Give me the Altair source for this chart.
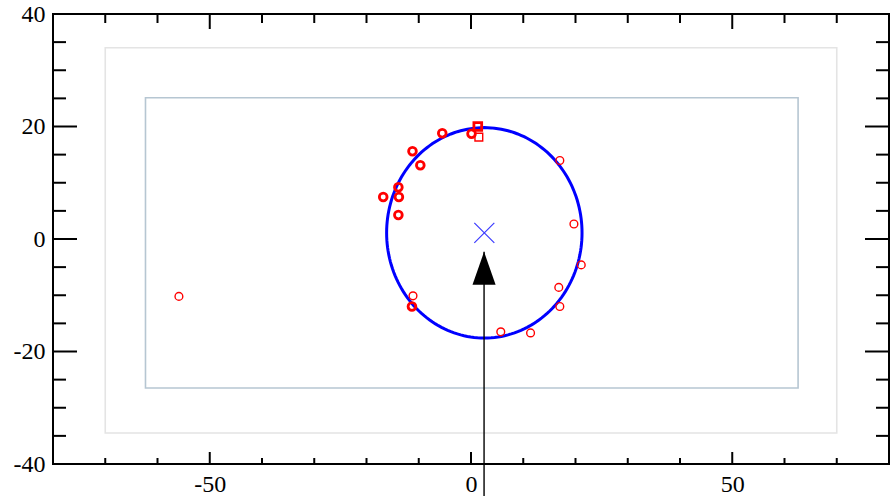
import altair as alt
import pandas as pd

# ---- data -----------------------------------------------------------------
# observed positions (red hollow markers); n = number of overlapping hits
PX = [-5.5, 0.1, 1.3, 1.5, -11.2, -9.7, -13.9, -13.8, -16.8, -13.9,
      -11.1, -11.3, 5.7, 11.4, 16.8, 17.0, 21.1, 17.0, 19.7, -55.9]
PY = [18.8, 18.7, 20.0, 18.1, 15.6, 13.1, 9.2, 7.45, 7.45, 4.26,
      -10.1, -12.0, -16.5, -16.7, -8.6, -12.0, -4.6, 13.95, 2.66, -10.2]
PSHAPE = ["circle", "circle", "square", "square", "circle", "circle", "circle",
          "circle", "circle", "circle", "circle", "circle", "circle", "circle",
          "circle", "circle", "circle", "circle", "circle", "circle"]
PN = [2, 2, 2, 1, 2, 2, 2, 2, 2, 2, 1, 2, 1, 1, 1, 1, 1, 1, 1, 1]

# fitted circle
CX, CY, R = 2.55, 1.1, 18.7

# arrow pointing up at the centre
ARROW_X = [2.5]
ARROW_TAIL = [-46.0]
ARROW_TIP = [-2.27]

# reference boxes (outer and inner)
BOX_NAME = ["outer", "inner"]
BOX_X1 = [-70.0, -62.3]
BOX_X2 = [70.0, 62.6]
BOX_Y1 = [-34.5, -26.5]
BOX_Y2 = [34.0, 25.1]

# tick positions
X_MAJOR = [-50, 0, 50]
X_MINOR = [-70, -60, -40, -30, -20, -10, 10, 20, 30, 40, 60, 70]
Y_MAJOR = [-40, -20, 0, 20, 40]
Y_MINOR = [-35, -30, -25, -15, -10, -5, 5, 10, 15, 25, 30, 35]

W, H = 836, 450
FONT = "Times New Roman"

xs = alt.Scale(domain=[-80, 80], nice=False, zero=False)
ys = alt.Scale(domain=[-40, 40], nice=False, zero=False)

AX = alt.Axis(values=X_MAJOR, ticks=False, domain=False, grid=False, title=None,
              labelFont=FONT, labelFontSize=24, labelColor="black",
              labelPadding=8, labelFlush=False, labelOverlap=False,
              labelExpr="'' + datum.value")
AY = alt.Axis(values=Y_MAJOR, ticks=False, domain=False, grid=False, title=None,
              labelFont=FONT, labelFontSize=24, labelColor="black",
              labelPadding=8, labelOverlap=False, labelBaseline="middle",
              labelExpr="'' + datum.value")

pts = pd.DataFrame({"x": PX, "y": PY, "shape": PSHAPE, "n": PN})
boxes = pd.DataFrame({"name": BOX_NAME, "x1": BOX_X1, "x2": BOX_X2,
                      "y1": BOX_Y1, "y2": BOX_Y2})
arrow = pd.DataFrame({"x": ARROW_X, "tail": ARROW_TAIL, "tip": ARROW_TIP})
centre = pd.DataFrame({"x": [CX], "y": [CY]})

box_layer = alt.Chart(boxes).mark_rect(fillOpacity=0, strokeWidth=1.6).encode(
    x=alt.X("x1:Q", scale=xs, axis=AX),
    x2="x2:Q",
    y=alt.Y("y1:Q", scale=ys, axis=AY),
    y2="y2:Q",
    stroke=alt.Stroke("name:N", scale=alt.Scale(domain=["outer", "inner"],
                                                  range=["#e4e4e4", "#b6c6d2"]),
                      legend=None),
)

circle_layer = alt.Chart(alt.sequence(0, 362, 2, as_="t")).transform_calculate(
    cx=f"{CX} + {R} * cos(datum.t * PI / 180)",
    cy=f"{CY} + {R} * sin(datum.t * PI / 180)",
).mark_line(color="#0000ff", strokeWidth=3).encode(
    x=alt.X("cx:Q", scale=xs, axis=AX),
    y=alt.Y("cy:Q", scale=ys, axis=AY),
    order="t:Q",
)

point_layer = alt.Chart(pts).mark_point(filled=False, color="#ff0000", size=60,
                                        opacity=1).encode(
    x=alt.X("x:Q", scale=xs, axis=AX),
    y=alt.Y("y:Q", scale=ys, axis=AY),
    shape=alt.Shape("shape:N", scale=alt.Scale(domain=["circle", "square"],
                                                 range=["circle", "square"]),
                    legend=None),
    strokeWidth=alt.StrokeWidth("n:Q", scale=alt.Scale(domain=[1, 2], range=[1.4, 2.8]),
                                legend=None),
)

centre_layer = alt.Chart(centre).mark_point(
    shape="M-1,-1L1,1M-1,1L1,-1", size=400, filled=False,
    color="#3a3aff", strokeWidth=1.2, opacity=1,
).encode(
    x=alt.X("x:Q", scale=xs, axis=AX),
    y=alt.Y("y:Q", scale=ys, axis=AY),
)

arrow_line = alt.Chart(arrow).mark_rule(color="black", strokeWidth=1.4).encode(
    x=alt.X("x:Q", scale=xs, axis=AX),
    y=alt.Y("tail:Q", scale=ys, axis=AY),
    y2="tip:Q",
)
arrow_head = alt.Chart(arrow).mark_point(
    shape="M0,0L0.7,2L-0.7,2Z", size=1089, filled=True, color="black",
    opacity=1, strokeWidth=0,
).encode(
    x=alt.X("x:Q", scale=xs, axis=AX),
    y=alt.Y("tip:Q", scale=ys, axis=AY),
)


def xticks(values, top_len, bottom_len):
    df = pd.DataFrame({"v": values})
    top = alt.Chart(df).mark_rule(color="black", strokeWidth=2).encode(
        x=alt.X("v:Q", scale=xs, axis=AX), y=alt.value(0), y2=alt.value(top_len))
    bottom = alt.Chart(df).mark_rule(color="black", strokeWidth=2).encode(
        x=alt.X("v:Q", scale=xs, axis=AX), y=alt.value(H), y2=alt.value(H - bottom_len))
    return [top, bottom]


def yticks(values, length):
    df = pd.DataFrame({"v": values})
    left = alt.Chart(df).mark_rule(color="black", strokeWidth=2).encode(
        y=alt.Y("v:Q", scale=ys, axis=AY), x=alt.value(0), x2=alt.value(length))
    right = alt.Chart(df).mark_rule(color="black", strokeWidth=2).encode(
        y=alt.Y("v:Q", scale=ys, axis=AY), x=alt.value(W), x2=alt.value(W - length))
    return [left, right]


tick_layers = (xticks(X_MAJOR, 15, 12) + xticks(X_MINOR, 9, 6)
               + yticks(Y_MAJOR, 24) + yticks(Y_MINOR, 13))

chart = alt.layer(
    box_layer, circle_layer, point_layer, centre_layer, arrow_line, arrow_head,
    *tick_layers,
).properties(
    width=W, height=H, background="white",
    autosize=alt.AutoSizeParams(type="none"),
    padding={"left": 53, "top": 14, "right": 2, "bottom": 32},
).configure_view(
    stroke="black", strokeWidth=2,
).configure_axis(
    labelFont=FONT, labelFontSize=24, labelColor="black",
)

chart.save("out.html", embed_options={"renderer": "svg", "actions": False})
